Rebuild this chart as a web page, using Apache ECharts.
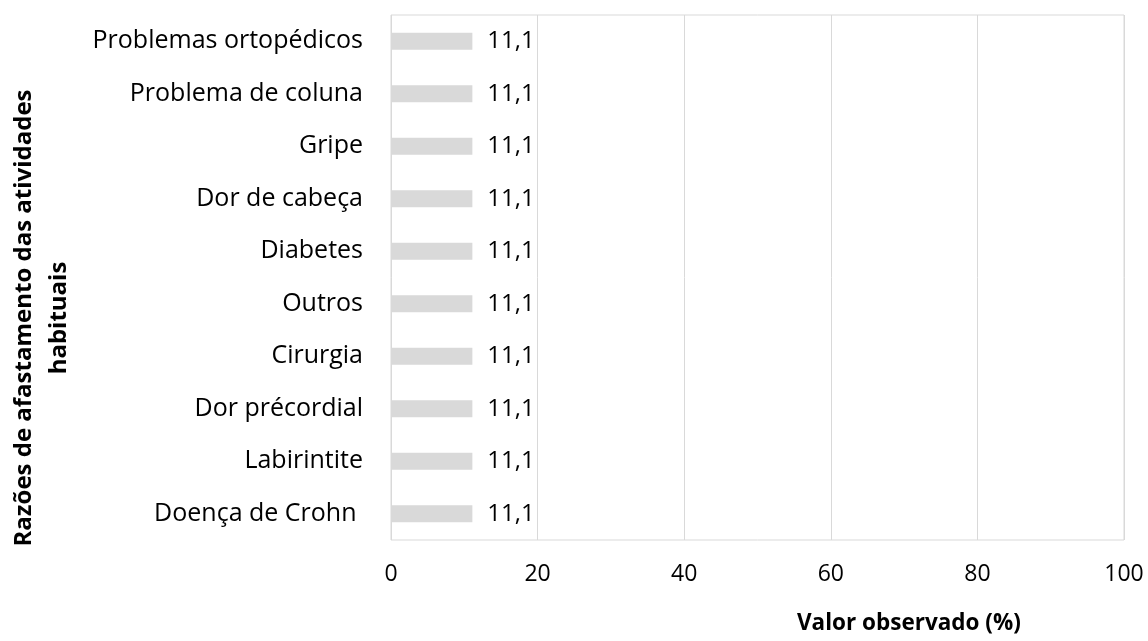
<!DOCTYPE html>
<html>
<head>
<meta charset="utf-8">
<script src="https://cdn.jsdelivr.net/npm/echarts@6/dist/echarts.min.js"></script>
<style>
  html, body { margin: 0; padding: 0; background: #ffffff; }
  #chart { width: 1148px; height: 641px; }
</style>
</head>
<body>
<div id="chart"></div>
<script>
// Reasons listed from the bottom of the axis to the top
const categories = [
  'Doença de Crohn ',
  'Labirintite',
  'Dor précordial',
  'Cirurgia',
  'Outros',
  'Diabetes',
  'Dor de cabeça',
  'Gripe',
  'Problema de coluna',
  'Problemas ortopédicos'
];
const values = [11.1, 11.1, 11.1, 11.1, 11.1, 11.1, 11.1, 11.1, 11.1, 11.1];
const xTicks = [0, 20, 40, 60, 80, 100];
const xTitle = 'Valor observado (%)';
const yTitle = 'Razões de afastamento das atividades\nhabituais';

const FONT = '"Open Sans", sans-serif';
const chart = echarts.init(document.getElementById('chart'));

chart.setOption({
  animation: false,
  backgroundColor: '#ffffff',
  grid: {
    left: 391, right: 24, top: 15, bottom: 101,
    show: true, borderColor: '#d9d9d9', borderWidth: 1
  },
  xAxis: {
    type: 'value',
    min: xTicks[0],
    max: xTicks[xTicks.length - 1],
    interval: xTicks[1] - xTicks[0],
    axisLine: { show: false },
    axisTick: { show: false },
    splitLine: { lineStyle: { color: '#d9d9d9', width: 1 } },
    axisLabel: { color: '#000', fontFamily: FONT, fontSize: 23, margin: 23 }
  },
  yAxis: {
    type: 'category',
    data: categories,
    axisLine: { show: false },
    axisTick: { show: false },
    axisLabel: { color: '#000', fontFamily: FONT, fontSize: 25, margin: 28 }
  },
  series: [{
    type: 'bar',
    data: values,
    barWidth: 17,
    itemStyle: { color: '#d9d9d9' },
    label: {
      show: true,
      position: 'right',
      distance: 15,
      color: '#000',
      fontFamily: FONT,
      fontSize: 24,
      formatter: p => p.value.toFixed(1).replace('.', ',')
    }
  }],
  graphic: [
    {
      type: 'text',
      x: 797, y: 624,
      style: {
        text: xTitle,
        fill: '#000',
        font: 'bold 22.5px ' + FONT,
        align: 'left',
        verticalAlign: 'middle'
      }
    },
    {
      type: 'text',
      x: 42, y: 318,
      rotation: Math.PI / 2,
      style: {
        text: yTitle,
        fill: '#000',
        font: 'bold 24px ' + FONT,
        align: 'center',
        verticalAlign: 'middle',
        lineHeight: 35
      }
    }
  ]
});
</script>
</body>
</html>
